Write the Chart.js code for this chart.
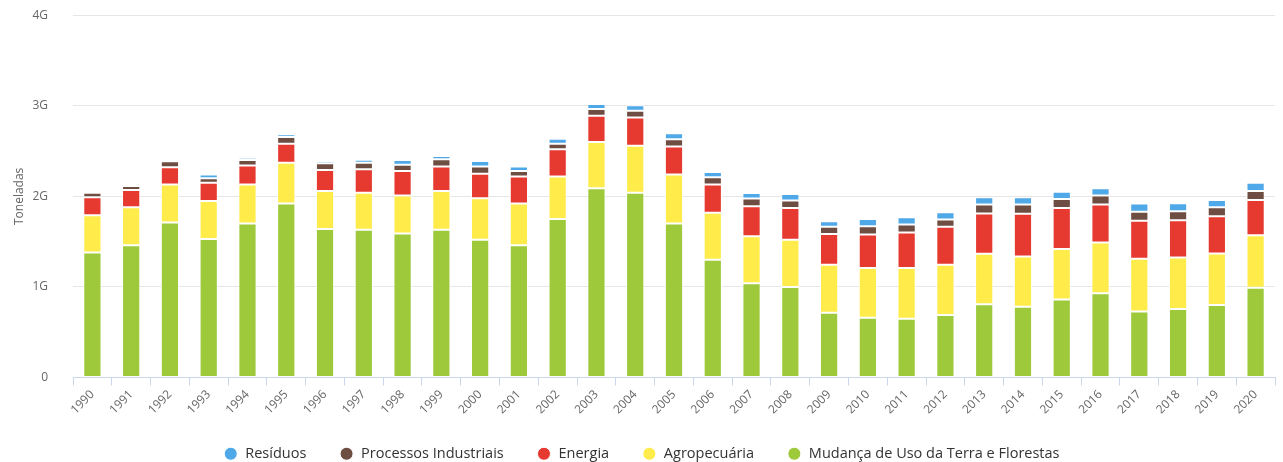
<!DOCTYPE html>
<html>
<head>
<meta charset="utf-8">
<script src="https://cdn.jsdelivr.net/npm/chart.js@4/dist/chart.umd.min.js"></script>
<style>
  html, body { margin: 0; padding: 0; background: #fff; }
  #box { width: 1283px; height: 462px; }
</style>
</head>
<body>
<div id="box"><canvas id="myChart" width="1283" height="462"></canvas></div>
<script>
// anos
var labels = ['1990','1991','1992','1993','1994','1995','1996','1997','1998','1999','2000',
  '2001','2002','2003','2004','2005','2006','2007','2008','2009','2010',
  '2011','2012','2013','2014','2015','2016','2017','2018','2019','2020'];

// valores em bilhoes de toneladas (G)
var mudancaUso = [1.38, 1.46, 1.71, 1.53, 1.70, 1.92, 1.64, 1.63, 1.59, 1.63, 1.52,
  1.46, 1.75, 2.09, 2.04, 1.70, 1.30, 1.04, 1.00, 0.715, 0.66,
  0.65, 0.69, 0.81, 0.78, 0.86, 0.93, 0.73, 0.755, 0.80, 0.99];
var agropecuaria = [0.41, 0.42, 0.42, 0.42, 0.43, 0.45, 0.42, 0.41, 0.42, 0.43, 0.46,
  0.46, 0.47, 0.51, 0.52, 0.54, 0.52, 0.52, 0.52, 0.53, 0.55,
  0.56, 0.555, 0.556, 0.555, 0.56, 0.56, 0.58, 0.57, 0.57, 0.58];
var energia = [0.20, 0.19, 0.19, 0.20, 0.21, 0.21, 0.23, 0.26, 0.27, 0.27, 0.27,
  0.30, 0.30, 0.29, 0.31, 0.31, 0.31, 0.33, 0.35, 0.34, 0.37,
  0.39, 0.42, 0.444, 0.474, 0.45, 0.42, 0.42, 0.41, 0.41, 0.39];
var processos = [0.05, 0.045, 0.067, 0.05, 0.06, 0.075, 0.075, 0.07, 0.07, 0.08, 0.08,
  0.06, 0.06, 0.075, 0.075, 0.08, 0.08, 0.085, 0.085, 0.08, 0.09,
  0.09, 0.08, 0.10, 0.10, 0.10, 0.10, 0.10, 0.10, 0.10, 0.10];
var residuos = [0.02, 0.02, 0.02, 0.04, 0.025, 0.03, 0.025, 0.035, 0.05, 0.035, 0.06,
  0.05, 0.055, 0.055, 0.06, 0.067, 0.06, 0.063, 0.07, 0.06, 0.08,
  0.08, 0.08, 0.08, 0.08, 0.08, 0.08, 0.09, 0.09, 0.08, 0.09];

var yTicks = [0, 1, 2, 3, 4];

var fontFam = '"Open Sans", "DejaVu Sans", sans-serif';

function serie(nome, valores, cor) {
  return {
    label: nome,
    data: valores,
    backgroundColor: cor,
    borderColor: '#ffffff',
    borderWidth: 1,
    borderSkipped: false,
    barPercentage: 0.47,
    categoryPercentage: 1
  };
}

var ctx = document.getElementById('myChart').getContext('2d');
var myChart = new Chart(ctx, {
  type: 'bar',
  data: {
    labels: labels,
    datasets: [
      serie('Mudança de Uso da Terra e Florestas', mudancaUso, '#9dc93b'),
      serie('Agropecuária', agropecuaria, '#ffec4b'),
      serie('Energia', energia, '#e6392f'),
      serie('Processos Industriais', processos, '#6e4d42'),
      serie('Resíduos', residuos, '#4fa9e8')
    ]
  },
  options: {
    responsive: false,
    animation: false,
    layout: { padding: { left: 8, right: 8, top: 0, bottom: -9 } },
    plugins: {
      tooltip: { enabled: false },
      legend: {
        position: 'bottom',
        reverse: true,
        labels: {
          usePointStyle: true,
          pointStyle: 'circle',
          boxWidth: 16,
          boxHeight: 9.2,
          padding: 33,
          color: '#333333',
          font: { family: fontFam, size: 14.5 }
        }
      }
    },
    scales: {
      x: {
        stacked: true,
        afterFit: function(axis) { axis.height = 36; },
        grid: {
          drawOnChartArea: false,
          offset: true,
          tickLength: 8,
          color: '#ccd6eb'
        },
        border: { color: '#ccd6eb' },
        ticks: {
          minRotation: 45,
          maxRotation: 45,
          color: '#666666',
          font: { family: fontFam, size: 12 },
          padding: 2
        }
      },
      y: {
        stacked: true,
        min: 0,
        max: 4,
        afterBuildTicks: function(axis) {
          axis.ticks = yTicks.map(function(v) { return { value: v }; });
        },
        afterFit: function(axis) { axis.width = 65; },
        grid: { color: '#e6e6e6', tickColor: 'rgba(0,0,0,0)', tickLength: 17 },
        border: { display: false },
        title: {
          display: true,
          text: 'Toneladas',
          color: '#666666',
          font: { family: fontFam, size: 12 },
          padding: { top: 4, bottom: 8 }
        },
        ticks: {
          color: '#666666',
          font: { family: fontFam, size: 12 },
          padding: 8,
          callback: function(v) { return v === 0 ? '0' : v + 'G'; }
        }
      }
    }
  }
});
</script>
</body>
</html>
